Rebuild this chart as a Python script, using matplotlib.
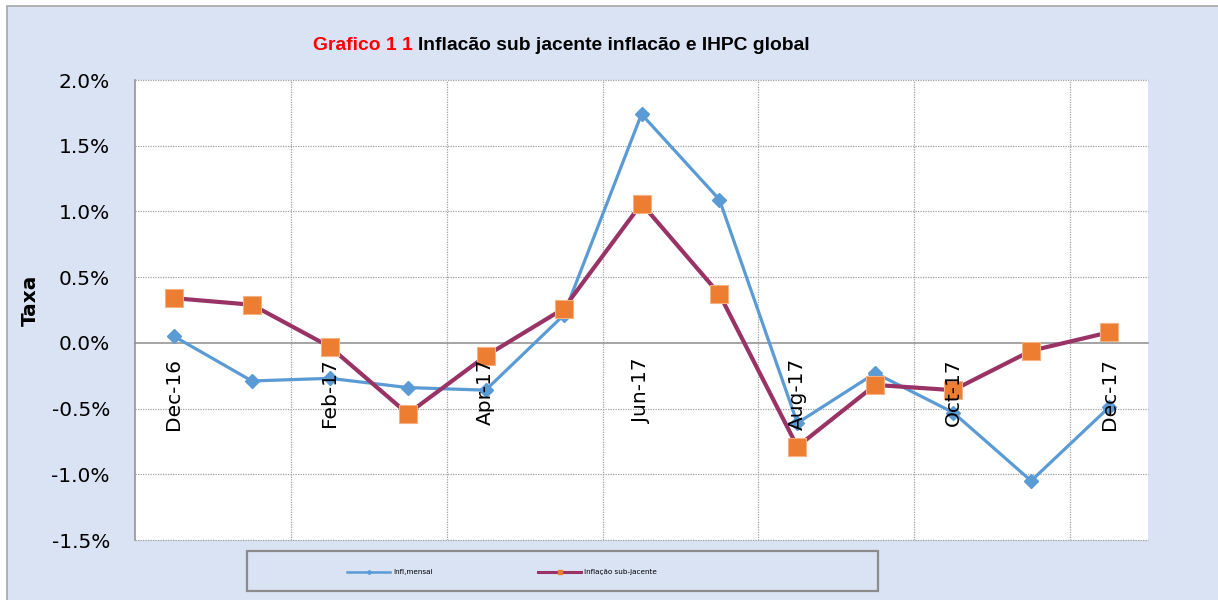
import matplotlib.pyplot as plt
from matplotlib.patches import Rectangle
from matplotlib.lines import Line2D

meses = ["Dec-16", "Jan-17", "Feb-17", "Mar-17", "Apr-17", "May-17", "Jun-17",
         "Jul-17", "Aug-17", "Sep-17", "Oct-17", "Nov-17", "Dec-17"]
infl_mensal = [0.05, -0.29, -0.27, -0.34, -0.36, 0.21, 1.74, 1.09, -0.61, -0.23, -0.53, -1.05, -0.49]
infl_sub = [0.34, 0.29, -0.03, -0.54, -0.10, 0.26, 1.06, 0.37, -0.79, -0.32, -0.36, -0.06, 0.08]
y_ticks = [-1.5, -1.0, -0.5, 0.0, 0.5, 1.0, 1.5, 2.0]

bg = '#dae3f3'
azul = '#5b9bd5'
roxo = '#993366'
laranja = '#ed7d31'

W, H = 1218, 600
fig = plt.figure(figsize=(W / 100, H / 100), dpi=100)
fig.patch.set_facecolor('white')

# fundo do grafico (caixa azul clara com borda cinza no topo/esquerda)
fig.patches.append(Rectangle((7 / W, -0.01), 1.0, 1.01 - 6 / H, transform=fig.transFigure,
                             facecolor=bg, edgecolor='#a6a6a6', linewidth=1.2, zorder=-10))

ax = fig.add_axes([135 / W, 1 - 540 / H, (1148 - 135) / W, (540 - 80) / H])
ax.set_facecolor('white')

# eixo x cruza no zero (antes de configurar os ticks, senao sao repostos)
for s in ['top', 'right']:
    ax.spines[s].set_visible(False)
ax.spines['bottom'].set_position(('data', 0))
ax.spines['bottom'].set_color('#8c8c8c')
ax.spines['left'].set_color('#8c8c8c')
ax.spines['bottom'].set_linewidth(1.1)
ax.spines['left'].set_linewidth(1.1)
ax.spines['bottom'].set_zorder(2)

x = list(range(len(meses)))
ax.plot(x, infl_mensal, color=azul, lw=2.3, marker='D', ms=7, mfc=azul, mec=azul, zorder=3)
ax.plot(x, infl_sub, color=roxo, lw=3.0, marker='s', ms=13, mfc=laranja, mec='#f4b183',
        mew=0.8, zorder=4)

ax.set_xlim(-0.5, len(meses) - 0.5)
ax.set_ylim(-1.5, 2.0)
ax.set_yticks(y_ticks)
ax.set_yticklabels(['{:.1f}%'.format(v) for v in y_ticks], fontsize=14.5)
ax.set_xticks(x[::2])
ax.set_xticklabels(meses[::2], rotation=90, fontsize=14.5)
ax.tick_params(axis='y', length=0, pad=18)
ax.tick_params(axis='x', length=0, pad=11)
ax.xaxis.set_zorder(5)  # rotulos por cima das linhas, como no Excel

# grelha pontilhada
for v in y_ticks:
    if v != 0:
        ax.axhline(v, color='#a0a0a0', lw=0.9, ls=(0, (1, 1)), zorder=1, clip_on=False)
for b in range(2, len(meses), 2):
    ax.axvline(b - 0.5, color='#a0a0a0', lw=0.9, ls=(0, (1, 1)), zorder=1)

fig.text(30 / W, 1 - 300 / H, 'Taxa', rotation=90, fontsize=14.5, fontweight='bold',
         ha='center', va='center')

# titulo em duas cores
t1 = fig.text(313 / W, 1 - 46 / H, 'Grafico 1 1', color='#ff0000', fontsize=13.9,
              fontweight='bold', ha='left', va='center', family='Liberation Sans')
fig.canvas.draw()
bb = t1.get_window_extent(renderer=fig.canvas.get_renderer())
fig.text(bb.x1 / W + 5 / W, 1 - 46 / H, 'Inflacão sub jacente inflacão e IHPC global',
         color='black', fontsize=13.9, fontweight='bold', ha='left', va='center',
         family='Liberation Sans')

# caixa da legenda
fig.patches.append(Rectangle((247 / W, 1 - 591 / H), (878 - 247) / W, 40 / H,
                             transform=fig.transFigure, facecolor=bg,
                             edgecolor='#8c8c8c', linewidth=1.6, zorder=1))
handles = [Line2D([], [], color=azul, lw=1.8, marker='D', ms=2),
           Line2D([], [], color=roxo, lw=2.2, marker='s', ms=3, mfc=laranja, mec=laranja)]
fig.legend(handles, ['Infl,mensal', 'Inflação sub-jacente'], loc='center',
           bbox_to_anchor=(502 / W, 1 - 572 / H), ncol=2, frameon=False, fontsize=5.2,
           handlelength=6, handletextpad=0.4, columnspacing=14.6)

fig.savefig('out.png', dpi=100, facecolor=fig.get_facecolor())
